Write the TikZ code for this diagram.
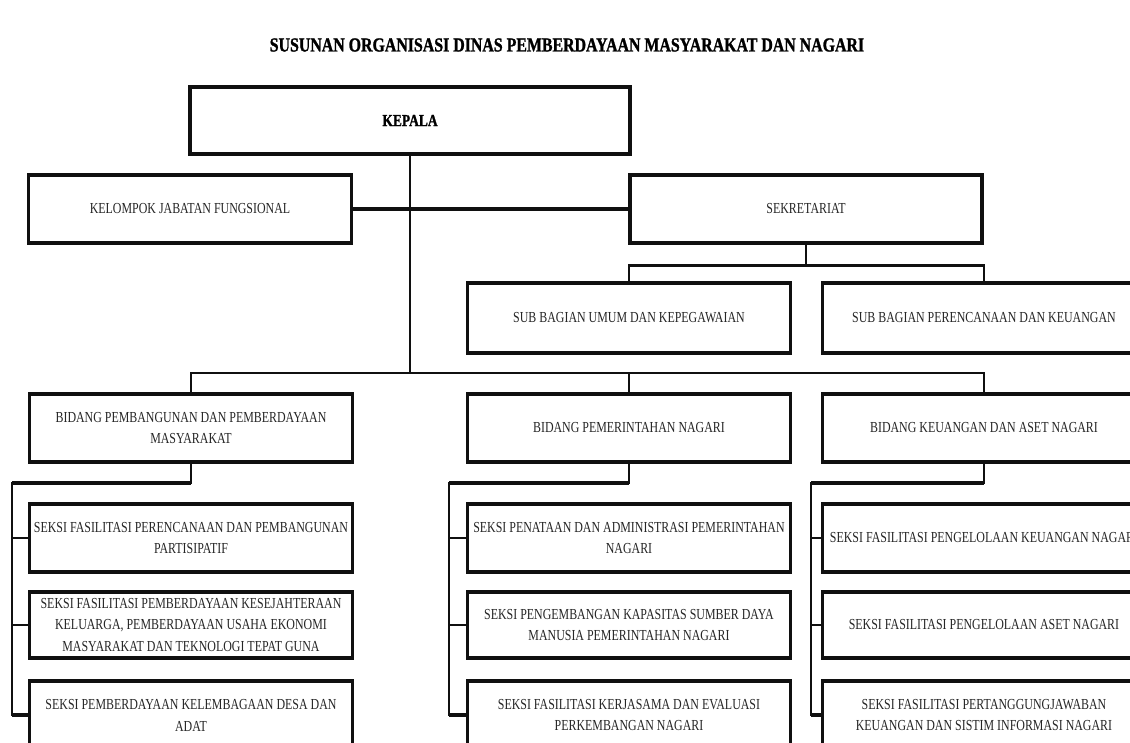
\documentclass[tikz,border=0pt]{standalone}
\usepackage{fontspec}
\setmainfont{Liberation Serif}
\newfontfamily\orgfont[FakeStretch=0.78]{Liberation Serif}
\newfontfamily\heavyfont[FakeStretch=0.8,FakeBold=1.2,UprightFont={* Bold}]{Liberation Serif}
\usetikzlibrary{positioning,calc}
\definecolor{Ink}{HTML}{262626}
\definecolor{Frame}{HTML}{101010}
\tikzset{
  unit/.style={draw=Frame,line width=1.8pt,fill=white,minimum width=6.46cm,minimum height=1.36cm,align=center,font=\orgfont\fontsize{8.7}{12.5}\selectfont,text=Ink,inner xsep=0pt},
  head/.style={unit,font=\heavyfont\fontsize{9.6}{12}\selectfont,text=black},
  link/.style={draw=Frame,line width=1.6pt,line cap=rect},
  boldlink/.style={draw=Frame,line width=2.8pt}
}

\begin{document}
\begin{tikzpicture}[x=0.02cm,y=-0.02cm]
  \useasboundingbox (0,0) rectangle (1130,743);
  \node[font=\heavyfont\fontsize{11.3}{13}\selectfont] (title) at (567,45) {SUSUNAN ORGANISASI DINAS PEMBERDAYAAN MASYARAKAT DAN NAGARI};
  % top level
  \node[head,minimum width=8.8cm,minimum height=1.34cm] (kepala) at (410,120.5) {KEPALA};
  \node[unit] (kelompok) at (190,209) {KELOMPOK JABATAN FUNGSIONAL};
  \node[unit,minimum width=7.04cm] (sekretariat) at (806,209) {SEKRETARIAT};
  \node[unit,minimum height=1.4cm] (subumum) at (629,318) {SUB BAGIAN UMUM DAN KEPEGAWAIAN};
  \node[unit,minimum height=1.4cm] (subrenc) at (984,318) {SUB BAGIAN PERENCANAAN DAN KEUANGAN};
  % bidang
  \node[unit] (bidang1) at (191,428) {BIDANG PEMBANGUNAN DAN PEMBERDAYAAN\\MASYARAKAT};
  \node[unit] (bidang2) at (629,428) {BIDANG PEMERINTAHAN NAGARI};
  \node[unit] (bidang3) at (984,428) {BIDANG KEUANGAN DAN ASET NAGARI};
  % seksi
  \node[unit] (seksi11) at (191,538) {SEKSI FASILITASI PERENCANAAN DAN PEMBANGUNAN\\PARTISIPATIF};
  \node[unit,minimum height=1.32cm] (seksi12) at (191,625) {SEKSI FASILITASI PEMBERDAYAAN KESEJAHTERAAN\\KELUARGA, PEMBERDAYAAN USAHA EKONOMI\\MASYARAKAT DAN TEKNOLOGI TEPAT GUNA};
  \node[unit] (seksi13) at (191,715) {SEKSI PEMBERDAYAAN KELEMBAGAAN DESA DAN\\ADAT};
  \node[unit] (seksi21) at (629,538) {SEKSI PENATAAN DAN ADMINISTRASI PEMERINTAHAN\\NAGARI};
  \node[unit,minimum height=1.32cm] (seksi22) at (629,625) {SEKSI PENGEMBANGAN KAPASITAS SUMBER DAYA\\MANUSIA PEMERINTAHAN NAGARI};
  \node[unit] (seksi23) at (629,715) {SEKSI FASILITASI KERJASAMA DAN EVALUASI\\PERKEMBANGAN NAGARI};
  \node[unit] (seksi31) at (984,538) {SEKSI FASILITASI PENGELOLAAN KEUANGAN NAGARI};
  \node[unit,minimum height=1.32cm] (seksi32) at (984,625) {SEKSI FASILITASI PENGELOLAAN ASET NAGARI};
  \node[unit] (seksi33) at (984,715) {SEKSI FASILITASI PERTANGGUNGJAWABAN\\KEUANGAN DAN SISTIM INFORMASI NAGARI};
  % connectors
  \coordinate (bidbus) at (410,373);
  \coordinate (subbus) at ($(sekretariat.south)+(0,21)$);
  \draw[link] (kepala.south) -- (bidbus);
  \draw[link] (bidang1.north) |- (bidbus) -| (bidang3.north);
  \draw[link] (bidbus -| bidang2.north) -- (bidang2.north);
  \draw[boldlink] (kelompok.east) -- (sekretariat.west);
  \draw[link] (sekretariat.south) -- (subbus);
  \draw[link] (subumum.north) |- (subbus) -| (subrenc.north);
  \foreach \c/\sx in {1/12,2/449,3/811} {
    \coordinate (spine\c) at (\sx,483);
    \draw[link] (bidang\c.south) -- (bidang\c.south |- spine\c);
    \draw[boldlink] (bidang\c.south |- spine\c) -- (spine\c);
    \draw[link] (spine\c) -- (spine\c |- seksi\c3.west);
    \draw[boldlink] (spine\c |- seksi\c3.west) -- (seksi\c3.west);
    \draw[link] (spine\c |- seksi\c1.west) -- (seksi\c1.west);
    \draw[link] (spine\c |- seksi\c2.west) -- (seksi\c2.west);
  }
\end{tikzpicture}
\end{document}
